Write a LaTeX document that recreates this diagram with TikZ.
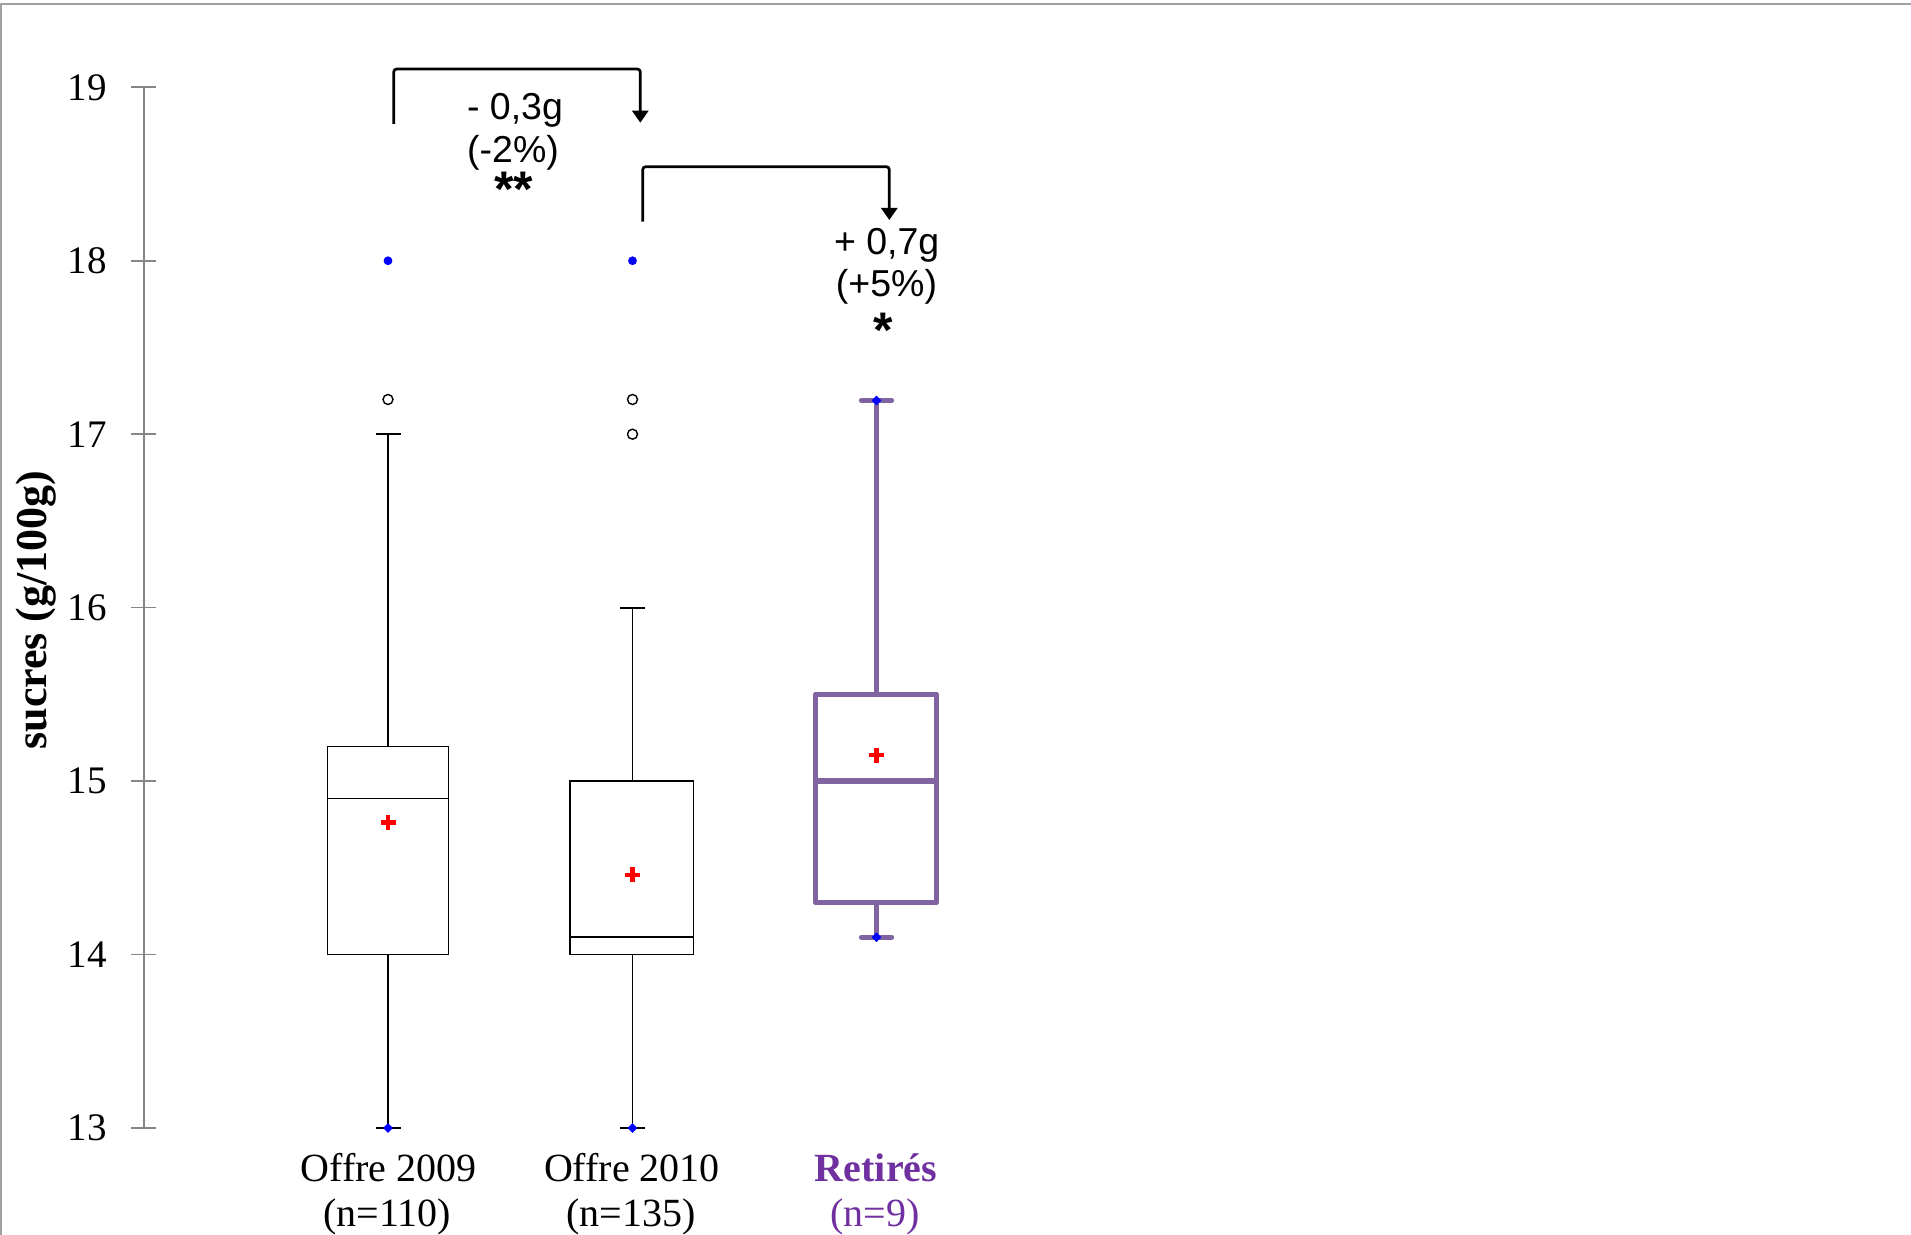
\documentclass[tikz,border=0pt]{standalone}
\usepackage{fontspec}
\setmainfont{Liberation Serif}
\newfontfamily\arialf{Liberation Sans}
\usetikzlibrary{arrows.meta,shapes.geometric}
\definecolor{boxpurple}{HTML}{8064A2}
\definecolor{txtpurple}{HTML}{7030A0}
\definecolor{axisgray}{HTML}{868686}
\definecolor{framegray}{HTML}{A0A0A0}
\begin{document}
\begin{tikzpicture}[x=0.5pt,y=-0.5pt,
  framel/.style={framegray, line width=1pt},
  axisl/.style={axisgray, line width=0.8pt},
  ticklab/.style={anchor=east, inner sep=0pt, font=\fontsize{19.5}{19.5}\selectfont},
  catlab/.style={anchor=base, inner sep=0pt, font=\fontsize{20}{20}\selectfont},
  boxl/.style={black, line width=0.75pt},
  capl/.style={black, line width=1.1pt},
  purpl/.style={boxpurple, line width=2.65pt, line join=round, line cap=round},
  meanx/.style={red, line width=2.3pt},
  openpt/.style={draw=black, line width=0.7pt, fill=white, circle, inner sep=0pt, minimum size=5pt},
  bluept/.style={fill=blue, circle, inner sep=0pt, minimum size=4.4pt},
  bluedia/.style={fill=blue, diamond, inner sep=0pt, minimum size=5pt},
  bracketl/.style={black, line width=1.35pt, rounded corners=1.5pt, -{Triangle[width=8pt,length=6pt]}},
  difflab/.style={anchor=base, inner sep=0pt, font=\arialf\fontsize{18.75}{18.75}\selectfont},
  starlab/.style={anchor=base, inner sep=0pt, font=\arialf\bfseries\fontsize{25}{25}\selectfont}
]
\useasboundingbox (0,0) rectangle (1911,1235);
\fill[white] (0,0) rectangle (1911,1235);
% frame
\draw[framel] (0,4) -- (1911,4);
\draw[framel] (1,4) -- (1,1235);
% axis
\coordinate (axtop) at (143.7,87.3);
\coordinate (axbot) at (143.7,1128);
\draw[axisl] (axtop) -- (axbot);
\foreach \v/\yy in {19/87.3,18/260.75,17/434.2,16/607.65,15/781.1,14/954.6,13/1128}{
  \draw[axisl] (131,\yy) -- (156,\yy);
  \node[ticklab] (t\v) at (107,\yy) {\v};
}
\node[rotate=90, inner sep=0pt, font=\bfseries\fontsize{22}{22}\selectfont] (ylab) at (36,610) {sucres (g/100g)};

% ---- Box 1 : Offre 2009
\draw[boxl] (388,746.4) -- (388,434.2);
\draw[capl] (375.5,434.2) -- (400.5,434.2);
\draw[boxl] (388,954.6) -- (388,1128);
\draw[capl] (375.5,1128) -- (400.5,1128);
\draw[boxl, fill=white] (327.3,746.4) rectangle (448.7,954.6);
\draw[boxl] (327.3,798.5) -- (448.7,798.5);
\draw[meanx] (380.5,822.7) -- (395.5,822.7) (388,815.2) -- (388,830.2);
\node[openpt] (o1a) at (388,399.5) {};
\node[bluept] (m1max) at (388,260.75) {};
\node[bluedia] (m1min) at (388,1128) {};

% ---- Box 2 : Offre 2010
\draw[boxl] (632.5,781.1) -- (632.5,607.65);
\draw[capl] (620,607.65) -- (645,607.65);
\draw[boxl] (632.5,954.6) -- (632.5,1128);
\draw[capl] (620,1128) -- (645,1128);
\draw[boxl, fill=white] (570,781.1) rectangle (693.3,954.6);
\draw[boxl] (570,937.2) -- (693.3,937.2);
\draw[meanx] (625,874.8) -- (640,874.8) (632.5,867.3) -- (632.5,882.3);
\node[openpt] (o2a) at (632.5,399.5) {};
\node[openpt] (o2b) at (632.5,434.2) {};
\node[bluept] (m2max) at (632.5,260.75) {};
\node[bluedia] (m2min) at (632.5,1128) {};

% ---- Box 3 : Retires
\draw[purpl] (876.5,694.4) -- (876.5,400.5);
\draw[purpl] (861.5,400.5) -- (891.5,400.5);
\draw[purpl] (876.5,902.5) -- (876.5,937.2);
\draw[purpl] (861.5,937.2) -- (891.5,937.2);
\draw[purpl, fill=white] (815.3,694.4) rectangle (936.7,902.5);
\draw[purpl, line cap=butt] (815.3,781.1) -- (936.7,781.1);
\draw[meanx] (869,755.1) -- (884,755.1) (876.5,747.6) -- (876.5,762.6);
\node[bluedia] (m3max) at (876.5,400.5) {};
\node[bluedia] (m3min) at (876.5,937.2) {};

% ---- category labels
\node[catlab] (c1a) at (388.5,1181.7) {Offre 2009};
\node[catlab] (c1b) at (387,1226.7) {(n=110)};
\node[catlab] (c2a) at (632,1181.7) {Offre 2010};
\node[catlab] (c2b) at (631,1226.7) {(n=135)};
\node[catlab, text=txtpurple, font=\bfseries\fontsize{20}{20}\selectfont] (c3a) at (876,1181.7) {Retirés};
\node[catlab, text=txtpurple] (c3b) at (875,1226.7) {(n=9)};

% ---- brackets
\coordinate (br1s) at (393.7,124);
\coordinate (br1e) at (640.3,122.7);
\draw[bracketl] (br1s) |- (517,69) -| (br1e);
\coordinate (br2s) at (642.7,221.7);
\coordinate (br2e) at (889.3,220);
\draw[bracketl] (br2s) |- (766,166.7) -| (br2e);

\node[difflab] (d1a) at (515,120) {- 0,3g};
\node[difflab] (d1b) at (513,163) {(-2\%)};
\node[starlab] (d1c) at (514,207) {**};
\node[difflab] (d2a) at (886.7,255) {+ 0,7g};
\node[difflab] (d2b) at (886.5,297) {(+5\%)};
\node[starlab] (d2c) at (883.3,348) {*};
\end{tikzpicture}
\end{document}
